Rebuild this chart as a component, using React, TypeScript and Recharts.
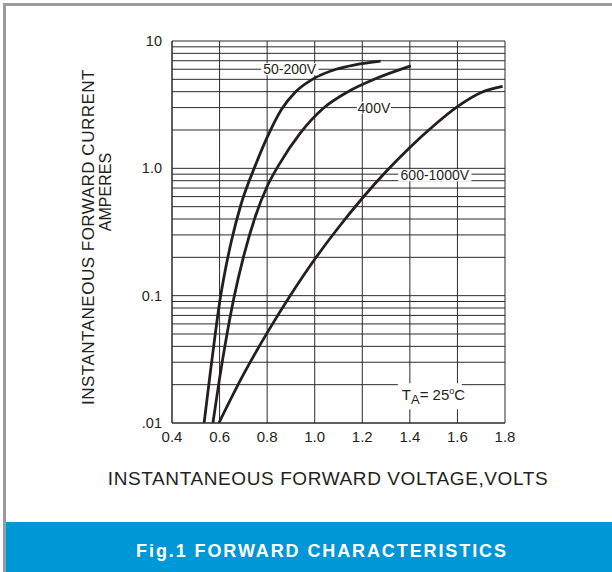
import React from "react";
import { LineChart, Line, XAxis, YAxis, CartesianGrid, ReferenceDot } from "recharts";

// Forward voltage (V) / forward current (A) readings per device group
const v50to200 = [0.535, 0.56, 0.58, 0.6, 0.62, 0.65, 0.69, 0.75, 0.8, 0.86, 0.92, 0.99, 1.09, 1.17, 1.277];
const i50to200 = [0.01, 0.024, 0.047, 0.088, 0.145, 0.27, 0.52, 1.05, 1.75, 2.9, 4.0, 5.0, 6.0, 6.5, 6.95];

const v400 = [0.572, 0.6, 0.63, 0.66, 0.7, 0.75, 0.8, 0.85, 0.94, 1.035, 1.14, 1.25, 1.404];
const i400 = [0.01, 0.0224, 0.0485, 0.0955, 0.2, 0.417, 0.72, 1.07, 1.9, 2.95, 4.0, 5.0, 6.37];

const v600to1000 = [0.597, 0.7, 0.8, 0.9, 1.0, 1.1, 1.2, 1.3, 1.4, 1.5, 1.6, 1.7, 1.79];
const i600to1000 = [0.01, 0.024, 0.051, 0.102, 0.193, 0.343, 0.582, 0.944, 1.46, 2.16, 3.05, 3.94, 4.4];

const xTicks = [0.4, 0.6, 0.8, 1.0, 1.2, 1.4, 1.6, 1.8];
const yTicks = [
  0.01, 0.02, 0.03, 0.04, 0.05, 0.06, 0.07, 0.08, 0.09,
  0.1, 0.2, 0.3, 0.4, 0.5, 0.6, 0.7, 0.8, 0.9,
  1, 2, 3, 4, 5, 6, 7, 8, 9, 10,
];
const yTickLabels: Record<string, string> = { "0.01": ".01", "0.1": "0.1", "1": "1.0", "10": "10" };

const curveLabels = [
  { name: "50-200V", v: 0.895, i: 6.0 },
  { name: "400V", v: 1.249, i: 3.0 },
  { name: "600-1000V", v: 1.505, i: 0.88 },
];

const toPoints = (vs: number[], is: number[]) => vs.map((v, k) => ({ v, i: is[k] }));

const FONT = "'Liberation Sans', Arial, Helvetica, sans-serif";
const INK = "#231f20";

const LabelBox = (props: any) => {
  const { cx, cy, text } = props;
  const w = text.length * 7.8 + 3;
  return (
    <g>
      <rect x={cx - w / 2} y={cy - 6} width={w} height={12} fill="#fff" />
      <text x={cx} y={cy} textAnchor="middle" dominantBaseline="central" fontSize={14} fontFamily={FONT} fill={INK}>
        {text}
      </text>
    </g>
  );
};

const TempLabel = (props: any) => {
  const { cx, cy } = props;
  return (
    <g>
      <rect x={cx - 32} y={cy - 12} width={64} height={26} fill="#fff" />
      <text x={cx - 28} y={cy + 5} fontSize={15} fontFamily={FONT} fill={INK}>
        <tspan>T</tspan>
        <tspan fontSize={13} dy={4}>A</tspan>
        <tspan dy={-4}>= 25</tspan>
        <tspan fontSize={9} dy={-6}>o</tspan>
        <tspan dy={6}>C</tspan>
      </text>
    </g>
  );
};

const YTitle = () => (
  <g fontFamily={FONT} fill={INK}>
    <text x={88} y={237} fontSize={17} letterSpacing={0.5} textAnchor="middle" dominantBaseline="central" transform="rotate(-90 88 237)">
      INSTANTANEOUS FORWARD CURRENT
    </text>
    <text x={105} y={192} fontSize={16} textAnchor="middle" dominantBaseline="central" transform="rotate(-90 105 192)">
      AMPERES
    </text>
  </g>
);

const XTitle = () => (
  <text x={328} y={478} textAnchor="middle" dominantBaseline="central" fontFamily={FONT} fontSize={19} letterSpacing={0.6} fill={INK}>
    INSTANTANEOUS FORWARD VOLTAGE,VOLTS
  </text>
);

export default function App() {
  return (
    <div style={{ position: "absolute", left: 0, top: 0, width: 612, height: 572, background: "#fff", overflow: "hidden" }}>
      <div style={{ position: "absolute", left: 3, top: 3, right: 0, height: 3, background: "#9b9b9d" }} />
      <div style={{ position: "absolute", left: 3, top: 3, bottom: 0, width: 3, background: "#9b9b9d" }} />
      <div
        style={{
          position: "absolute",
          left: 6,
          top: 522,
          width: 606,
          height: 50,
          background: "#0097d7",
          display: "flex",
          alignItems: "center",
          justifyContent: "center",
          paddingLeft: 26,
          paddingTop: 8,
          boxSizing: "border-box",
          color: "#fff",
          fontFamily: FONT,
          fontWeight: "bold",
          fontSize: 18,
          letterSpacing: 1.9,
        }}
      >
        Fig.1 FORWARD CHARACTERISTICS
      </div>
      <div style={{ position: "absolute", left: 0, top: 0 }}>
        <LineChart width={612} height={500} margin={{ top: 41, right: 107, left: 120, bottom: 47 }}>
          <CartesianGrid stroke="#2b2b2b" strokeWidth={1} />
          <XAxis
            type="number"
            dataKey="v"
            domain={[0.4, 1.8]}
            ticks={xTicks}
            tickFormatter={(t: number) => t.toFixed(1)}
            height={30}
            tickLine={false}
            tickSize={0}
            tickMargin={8}
            axisLine={{ stroke: "#2b2b2b" }}
            tick={{ fill: INK, fontSize: 15, fontFamily: FONT }}
            allowDataOverflow
            label={{ content: () => <XTitle /> }}
          />
          <YAxis
            type="number"
            dataKey="i"
            scale="log"
            domain={[0.01, 10]}
            ticks={yTicks}
            interval={0}
            tickFormatter={(t: number) => yTickLabels[String(t)] ?? ""}
            width={52}
            tickLine={false}
            tickSize={0}
            tickMargin={10}
            axisLine={{ stroke: "#2b2b2b" }}
            tick={{ fill: INK, fontSize: 14.5, fontFamily: FONT }}
            allowDataOverflow
            label={{ content: () => <YTitle /> }}
          />
          <Line data={toPoints(v50to200, i50to200)} dataKey="i" type="monotone" stroke={INK} strokeWidth={2.8} dot={false} isAnimationActive={false} />
          <Line data={toPoints(v400, i400)} dataKey="i" type="monotone" stroke={INK} strokeWidth={2.8} dot={false} isAnimationActive={false} />
          <Line data={toPoints(v600to1000, i600to1000)} dataKey="i" type="monotone" stroke={INK} strokeWidth={2.8} dot={false} isAnimationActive={false} />
          {curveLabels.map((c) => (
            <ReferenceDot key={c.name} x={c.v} y={c.i} r={0} shape={(p: any) => <LabelBox {...p} text={c.name} />} />
          ))}
          <ReferenceDot x={1.484} y={0.0165} r={0} shape={(p: any) => <TempLabel {...p} />} />
        </LineChart>
      </div>
    </div>
  );
}
